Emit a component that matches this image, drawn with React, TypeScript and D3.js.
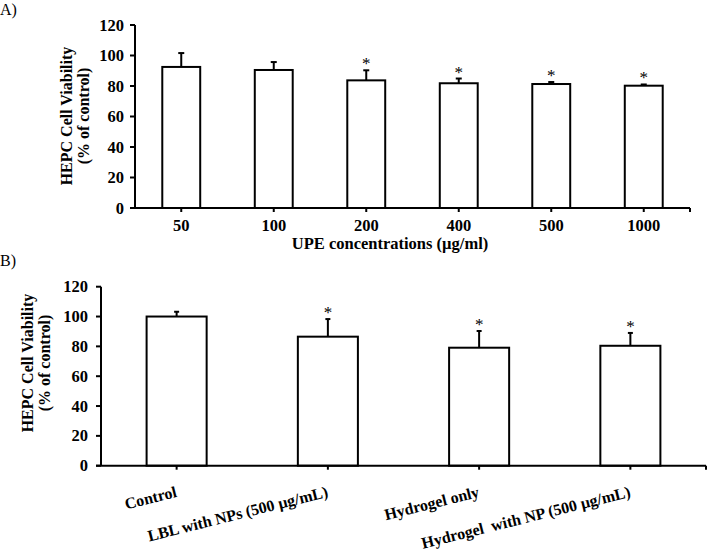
import React from "react";
import * as d3 from "d3";

const catsA = ["50", "100", "200", "400", "500", "1000"];
const meanA = [92.5, 90.5, 83.7, 81.8, 81.3, 80.2];
const errA = [9.1, 5.2, 6.6, 3.1, 1.3, 0.8];
const sigA = [false, false, true, true, true, true];

const catsB = ["Control", "LBL with NPs (500 µg/mL)", "Hydrogel only", "Hydrogel  with NP (500 µg/mL)"];
const meanB = [100, 86.5, 79.1, 80.4];
const errB = [3.2, 11.8, 11.2, 8.6];
const sigB = [false, true, true, true];

const yTicks = [0, 20, 40, 60, 80, 100, 120];

const FONT = "'Liberation Serif', 'Times New Roman', serif";

type PanelProps = {
  cats: string[];
  means: number[];
  errs: number[];
  sig: boolean[];
  x0: number;
  x1: number;
  yTop: number;
  yBot: number;
  padIn: number;
  padOut: number;
  labelRight: number;
  title1X: number;
  title2X: number;
  titleY: number;
  rotated: boolean;
  capW: number;
};

function Panel(p: PanelProps) {
  const x = d3.scaleBand<string>().domain(p.cats).range([p.x0, p.x1]).paddingInner(p.padIn).paddingOuter(p.padOut);
  const y = d3.scaleLinear().domain([0, 120]).range([p.yBot, p.yTop]);
  const bw = x.bandwidth();
  return (
    <g>
      {p.cats.map((c, i) => {
        const cx = (x(c) as number) + bw / 2;
        const top = y(p.means[i]);
        const et = y(p.means[i] + p.errs[i]);
        return (
          <g key={c}>
            <line x1={cx} x2={cx} y1={top} y2={et} stroke="#000" strokeWidth={2} />
            <line x1={cx - p.capW / 2} x2={cx + p.capW / 2} y1={et} y2={et} stroke="#000" strokeWidth={2} />
            <rect x={x(c)} y={top} width={bw} height={p.yBot - top} fill="#fff" stroke="#000" strokeWidth={2} />
            {p.sig[i] && (
              <text x={cx} y={et - 1} textAnchor="middle" fontFamily={FONT} fontSize={17} fill="#000">
                *
              </text>
            )}
          </g>
        );
      })}
      <line x1={p.x0} x2={p.x0} y1={p.yTop} y2={p.yBot} stroke="#000" strokeWidth={2} />
      {yTicks.map((t) => (
        <g key={t}>
          <line x1={p.x0 - 5} x2={p.x0} y1={y(t)} y2={y(t)} stroke="#000" strokeWidth={2} />
          <text x={p.labelRight} y={y(t) + 5.5} textAnchor="end" fontFamily={FONT} fontWeight="bold" fontSize={16.5} fill="#000">
            {t}
          </text>
        </g>
      ))}
      <line x1={p.x0 - 5} x2={p.x1} y1={p.yBot} y2={p.yBot} stroke="#000" strokeWidth={2} />
      <line x1={p.x1} x2={p.x1} y1={p.yBot} y2={p.yBot + 4} stroke="#000" strokeWidth={2} />
      {p.cats.map((c) => {
        const cx = (x(c) as number) + bw / 2;
        return <line key={c} x1={cx} x2={cx} y1={p.yBot} y2={p.yBot + 4} stroke="#000" strokeWidth={2} />;
      })}
      {p.cats.map((c) => {
        const cx = (x(c) as number) + bw / 2;
        return p.rotated ? (
          <text
            key={c}
            transform={`translate(${cx + 1},${p.yBot + 31}) rotate(-14)`}
            textAnchor="end"
            fontFamily={FONT}
            fontWeight="bold"
            fontSize={16}
            fill="#000"
            style={{ whiteSpace: "pre" }}
          >
            {c}
          </text>
        ) : (
          <text key={c} x={cx} y={p.yBot + 23} textAnchor="middle" fontFamily={FONT} fontWeight="bold" fontSize={16.5} fill="#000">
            {c}
          </text>
        );
      })}
      <text transform={`translate(${p.title1X},${p.titleY}) rotate(-90)`} textAnchor="middle" fontFamily={FONT} fontWeight="bold" fontSize={16} fill="#000">
        HEPC Cell Viability
      </text>
      <text transform={`translate(${p.title2X},${p.titleY}) rotate(-90)`} textAnchor="middle" fontFamily={FONT} fontWeight="bold" fontSize={16} fill="#000">
        (% of control)
      </text>
    </g>
  );
}

export default function App() {
  return (
    <svg width={708} height={551} style={{ position: "absolute", left: 0, top: 0, background: "#fff" }}>
      <rect width={708} height={551} fill="#fff" />
      <text x={0} y={15} fontFamily={FONT} fontSize={16} fill="#000">
        A)
      </text>
      <Panel
        cats={catsA}
        means={meanA}
        errs={errA}
        sig={sigA}
        x0={135}
        x1={690}
        yTop={25}
        yBot={208}
        padIn={0.59}
        padOut={0.295}
        labelRight={124}
        title1X={72}
        title2X={89}
        titleY={116}
        rotated={false}
        capW={6}
      />
      <text x={390} y={249} textAnchor="middle" fontFamily={FONT} fontWeight="bold" fontSize={16.5} fill="#000">
        UPE concentrations (µg/ml)
      </text>
      <text x={0} y={266} fontFamily={FONT} fontSize={16} fill="#000">
        B)
      </text>
      <Panel
        cats={catsB}
        means={meanB}
        errs={errB}
        sig={sigB}
        x0={101}
        x1={706}
        yTop={286.7}
        yBot={465.7}
        padIn={0.603}
        padOut={0.3015}
        labelRight={88}
        title1X={33}
        title2X={50}
        titleY={363}
        rotated={true}
        capW={5}
      />
    </svg>
  );
}
